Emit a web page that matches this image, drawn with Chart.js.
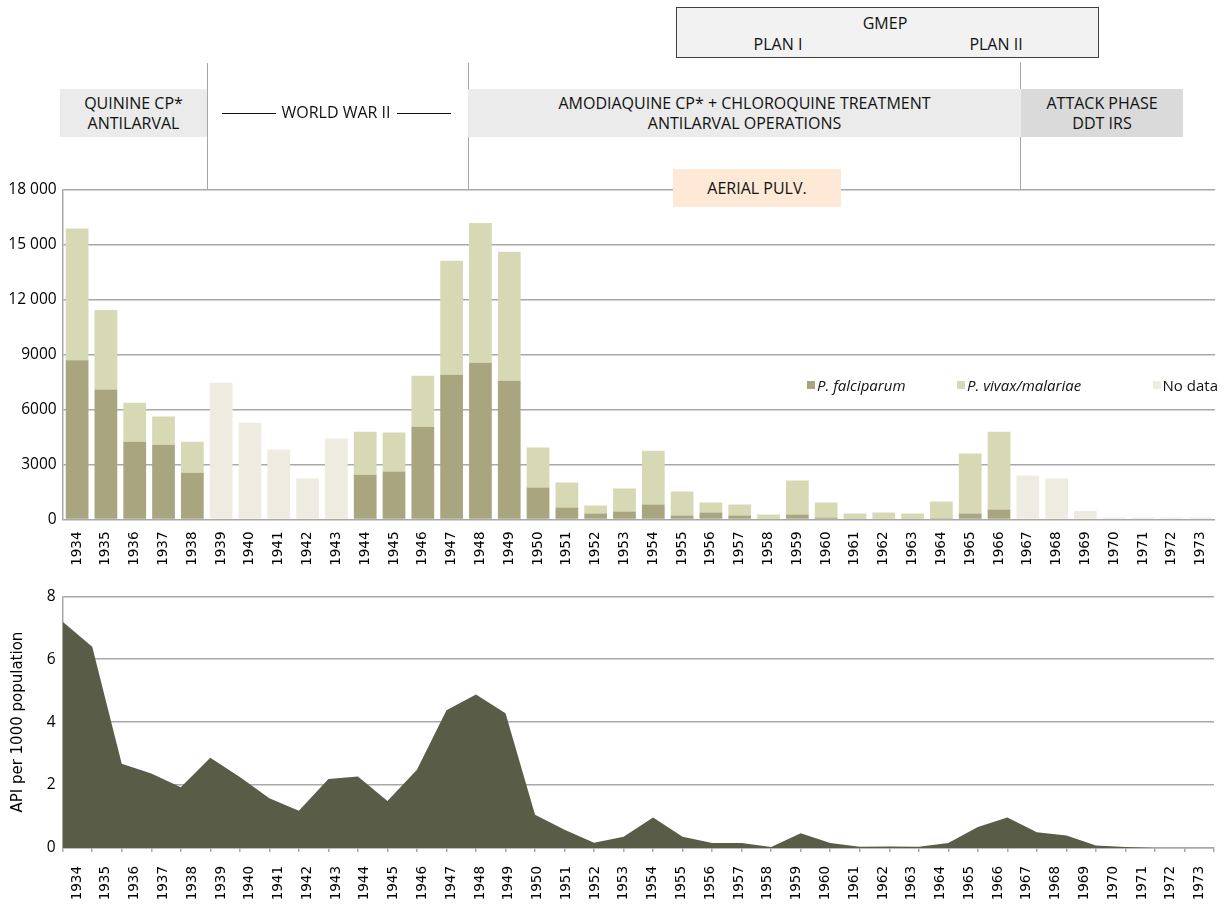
<!DOCTYPE html>
<html>
<head>
<meta charset="utf-8">
<script src="https://cdn.jsdelivr.net/npm/chart.js@4.4.0/dist/chart.umd.min.js"></script>
<style>
  body{margin:0;background:#fff;width:1229px;height:907px;overflow:hidden;position:relative;font-family:'Open Sans',sans-serif;color:#111}
  #w1{position:absolute;left:0;top:0;width:1229px;height:580px}
  #w2{position:absolute;left:0;top:580px;width:1229px;height:327px}
  .box{position:absolute;display:flex;flex-direction:column;align-items:center;justify-content:center;font-size:16px;line-height:20px;text-align:center;box-sizing:border-box;white-space:nowrap}
  .vline{position:absolute;width:1px;background:#a6a6a6}
  .hline{position:absolute;height:1px;background:#111}
  .txt{position:absolute;font-size:16px;line-height:20px;white-space:nowrap;transform:translate(-50%,-50%)}
  .leg{position:absolute;display:flex;align-items:center;font-size:15px;line-height:20px;white-space:nowrap;width:max-content}
  .leg i.sw{display:inline-block;width:8px;height:8px;margin-right:2px}
</style>
</head>
<body>
<div id="w1"><canvas id="c1" width="1229" height="580"></canvas></div>
<div id="w2"><canvas id="c2" width="1229" height="327"></canvas></div>

<!-- annotations -->
<div class="vline" style="left:207px;top:63px;height:127px"></div>
<div class="vline" style="left:468px;top:63px;height:127px"></div>
<div class="vline" style="left:1020px;top:62px;height:128px"></div>

<div class="box" style="left:676px;top:7px;width:423px;height:51px;background:#f2f2f2;border:1px solid #404040"></div>
<div class="txt" style="left:885px;top:23px">GMEP</div>
<div class="txt" style="left:778px;top:44px">PLAN I</div>
<div class="txt" style="left:996px;top:44px">PLAN II</div>

<div class="box" style="left:60px;top:89px;width:147px;height:48px;background:#ebebeb"><div>QUININE CP*</div><div>ANTILARVAL</div></div>
<div class="hline" style="left:222px;top:113px;width:54px"></div>
<div class="txt" style="left:336px;top:112px">WORLD WAR II</div>
<div class="hline" style="left:397px;top:113px;width:54px"></div>
<div class="box" style="left:468px;top:89px;width:553px;height:48px;background:#ebebeb"><div>AMODIAQUINE CP* + CHLOROQUINE TREATMENT</div><div>ANTILARVAL OPERATIONS</div></div>
<div class="box" style="left:1021px;top:89px;width:162px;height:48px;background:#d9dad9"><div>ATTACK PHASE</div><div>DDT IRS</div></div>
<div class="box" style="left:673px;top:169px;width:168px;height:38px;background:#fde9d5"><div>AERIAL PULV.</div></div>

<div id="legend"></div>

<script>
// ---------- data ----------
const years = ['1934','1935','1936','1937','1938','1939','1940','1941','1942','1943',
               '1944','1945','1946','1947','1948','1949','1950','1951','1952','1953',
               '1954','1955','1956','1957','1958','1959','1960','1961','1962','1963',
               '1964','1965','1966','1967','1968','1969','1970','1971','1972','1973'];

const falciparum = [8700,7100,4250,4090,2560,null,null,null,null,null,
                    2450,2620,5070,7910,8560,7580,1750,650,330,440,
                    820,220,380,220,50,270,110,50,50,50,
                    20,330,550,null,null,null,null,null,null,null];

const vivaxMalariae = [7200,4350,2130,1530,1690,null,null,null,null,null,
                       2350,2130,2780,6220,7640,7040,2180,1370,430,1250,
                       2940,1310,550,600,220,1860,820,280,330,280,
                       960,3270,4250,null,null,null,null,null,null,null];

const noData = [null,null,null,null,null,7470,5290,3820,2240,4420,
                null,null,null,null,null,null,null,null,null,null,
                null,null,null,null,null,null,null,null,null,null,
                null,null,null,2400,2240,470,90,90,90,90];

const apiPer1000 = [7.19,6.40,2.68,2.37,1.93,2.87,2.26,1.58,1.18,2.19,
                    2.27,1.49,2.49,4.38,4.88,4.28,1.06,0.58,0.17,0.36,
                    0.97,0.36,0.16,0.16,0.03,0.47,0.16,0.04,0.05,0.04,
                    0.16,0.67,0.97,0.50,0.40,0.08,0.03,0,0,0];

const seriesNames = ['P. falciparum','P. vivax/malariae','No data'];
const seriesColors = ['#a9a67f','#d7d9b5','#eeece1'];
const apiColor = '#595d48';

const casesTicks = [0,3000,6000,9000,12000,15000,18000];
const casesTickLabels = ['0','3000','6000','9000','12 000','15 000','18 000'];
const apiTicks = [0,2,4,6,8];
const apiTickLabels = ['0','2','4','6','8'];

// ---------- shared styles ----------
const GRID = '#a8a8a8';
const yearFont = {family:'DejaVu Sans', size:13.5};
const numFont = {family:'Open Sans', size:15.5};

// ---------- top chart: cases ----------
new Chart(document.getElementById('c1'), {
  type:'bar',
  data:{
    labels: years,
    datasets:[
      {label:seriesNames[0], data:falciparum, backgroundColor:seriesColors[0]},
      {label:seriesNames[1], data:vivaxMalariae, backgroundColor:seriesColors[1]},
      {label:seriesNames[2], data:noData, backgroundColor:seriesColors[2]}
    ].map(d => Object.assign(d, {barPercentage:0.79, categoryPercentage:1.0, borderWidth:0}))
  },
  options:{
    responsive:false, animation:false,
    layout:{padding:{top:190, right:9, left:0, bottom:0}},
    plugins:{legend:{display:false}, tooltip:{enabled:false}},
    scales:{
      x:{stacked:true, offset:true,
         grid:{display:false, drawTicks:false}, border:{display:false},
         ticks:{minRotation:90, maxRotation:90, autoSkip:false, padding:12, font:yearFont, color:'#000'},
         afterFit:s => { s.height = 60.5; }},
      y:{stacked:true, min:0, max:18000,
         afterBuildTicks:s => { s.ticks = casesTicks.map(v => ({value:v})); },
         ticks:{padding:6, font:numFont, color:'#000',
                callback:v => casesTickLabels[casesTicks.indexOf(v)]},
         grid:{color:GRID, lineWidth:1.5, drawTicks:false},
         border:{color:GRID, width:1.5},
         afterFit:s => { s.width = 62.7; }}
    }
  }
});

// legend (HTML, built from series arrays)
const legendLeft = [807, 957, null];
const legend = document.getElementById('legend');
seriesNames.forEach((name, i) => {
  const el = document.createElement('div');
  el.className = 'leg';
  if (legendLeft[i] !== null) el.style.left = legendLeft[i] + 'px';
  else el.style.right = '11px';
  el.style.top = '375px';
  const sw = document.createElement('i');
  sw.className = 'sw';
  sw.style.background = seriesColors[i];
  const t = document.createElement('span');
  t.textContent = name;
  if (i < 2) t.style.fontStyle = 'italic';
  el.appendChild(sw); el.appendChild(t);
  legend.appendChild(el);
});

// ---------- bottom chart: API ----------
new Chart(document.getElementById('c2'), {
  type:'line',
  data:{
    labels: years,
    datasets:[{
      label:'API per 1000 population', data:apiPer1000, xAxisID:'xd',
      fill:'origin', backgroundColor:apiColor, borderWidth:0, pointRadius:0, tension:0
    }]
  },
  options:{
    responsive:false, animation:false,
    layout:{padding:{top:16, right:9, left:0, bottom:0}},
    plugins:{legend:{display:false}, tooltip:{enabled:false}},
    scales:{
      xd:{type:'category', labels:years, offset:false, position:'bottom', weight:0,
          grid:{display:true, drawOnChartArea:false, drawTicks:true, tickLength:4, color:GRID, lineWidth:1.5},
          ticks:{display:false},
          border:{color:GRID, width:1.5},
          afterFit:s => { s.height = 5; }},
      x:{type:'category', labels:years, offset:true, position:'bottom', weight:1,
         grid:{display:false, drawTicks:false}, border:{display:false},
         ticks:{minRotation:90, maxRotation:90, autoSkip:false, padding:13, font:yearFont, color:'#000'},
         afterFit:s => { s.height = 54; }},
      y:{min:0, max:8,
         afterBuildTicks:s => { s.ticks = apiTicks.map(v => ({value:v})); },
         ticks:{padding:7, font:numFont, color:'#000',
                callback:v => apiTickLabels[apiTicks.indexOf(v)]},
         grid:{color:GRID, lineWidth:1.5, drawTicks:false},
         border:{color:GRID, width:1.5},
         title:{display:true, text:'API per 1000 population', color:'#000',
                font:{family:'DejaVu Sans', size:15}, padding:{top:9, bottom:0}},
         afterFit:s => { s.width = 62.7; }}
    }
  }
});
</script>
</body>
</html>
